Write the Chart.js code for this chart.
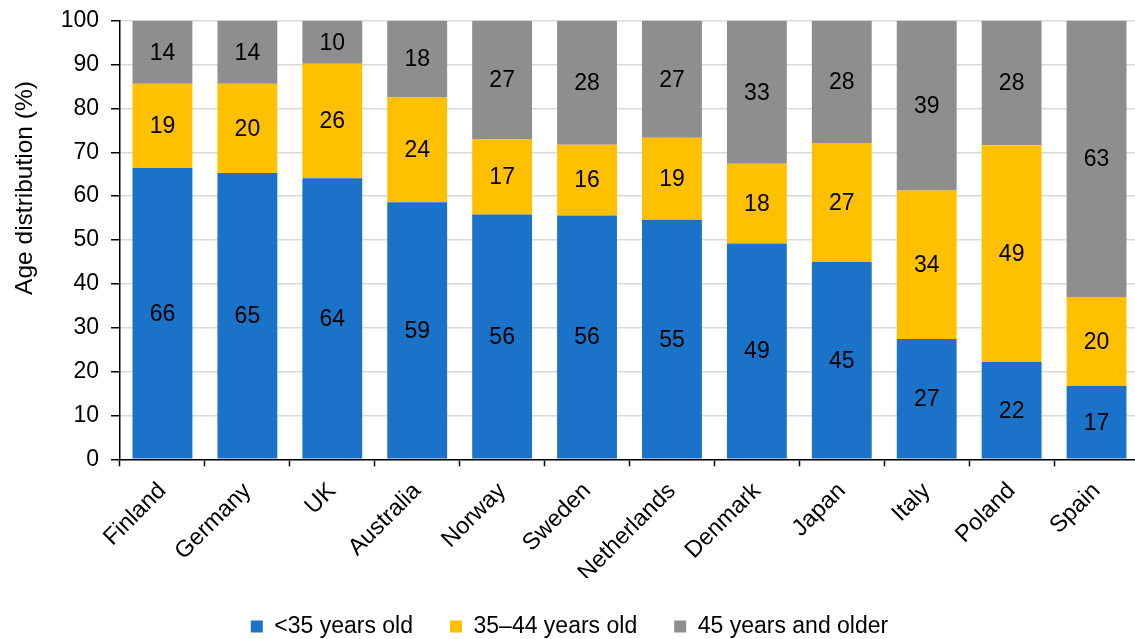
<!DOCTYPE html>
<html>
<head>
<meta charset="utf-8">
<title>Age distribution by country</title>
<script src="https://cdn.jsdelivr.net/npm/chart.js@4.4.1/dist/chart.umd.min.js"></script>
<style>
  html, body { margin: 0; padding: 0; background: #ffffff; overflow: hidden; }
  #wrap { position: relative; width: 1139px; height: 639px; }
</style>
</head>
<body>
<div id="wrap"><canvas id="chart"></canvas></div>
<script>
// Countries along the x axis
const countries = ['Finland', 'Germany', 'UK', 'Australia', 'Norway', 'Sweden',
  'Netherlands', 'Denmark', 'Japan', 'Italy', 'Poland', 'Spain'];

// Share of each age group (%), per country
const under35 = [66.4, 65.3, 64.1, 58.6, 55.8, 55.6, 54.6, 49.2, 45.0, 27.4, 22.2, 16.7];
const age35to44 = [19.2, 20.3, 26.1, 23.9, 17.1, 16.1, 18.7, 18.2, 27.1, 33.9, 49.4, 20.3];
const age45plus = [14.4, 14.4, 9.8, 17.5, 27.1, 28.3, 26.7, 32.6, 27.9, 38.7, 28.4, 63.0];

// Series names
const seriesNames = ['<35 years old', '35\u201344 years old', '45 years and older'];

// Y axis range and step
const yTicks = { min: 0, max: 100, step: 10 };
const yTitle = 'Age distribution (%)';

const FONT = 'Liberation Sans, Arial, sans-serif';
const colors = ['#1b72c9', '#ffc000', '#8e8e8e'];

// Writes each segment's rounded value in the middle of the segment
const segmentLabels = {
  id: 'segmentLabels',
  afterDatasetsDraw(chart) {
    const ctx = chart.ctx;
    ctx.save();
    ctx.font = '23px ' + FONT;
    ctx.fillStyle = '#000000';
    ctx.textAlign = 'center';
    ctx.textBaseline = 'middle';
    chart.data.datasets.forEach((ds, i) => {
      const meta = chart.getDatasetMeta(i);
      meta.data.forEach((bar, j) => {
        const v = ds.data[j];
        ctx.fillText(String(Math.round(v)), bar.x, (bar.y + bar.base) / 2 + 1);
      });
    });
    ctx.restore();
  }
};

// Vertical axis title, set a little above the middle of the axis
const axisTitle = {
  id: 'axisTitle',
  afterDraw(chart, args, opts) {
    const ctx = chart.ctx;
    const area = chart.chartArea;
    ctx.save();
    ctx.font = '24.5px ' + FONT;
    ctx.fillStyle = '#000000';
    ctx.textAlign = 'center';
    ctx.textBaseline = 'middle';
    ctx.translate(opts.x, (area.top + area.bottom) / 2 + opts.shift);
    ctx.rotate(-Math.PI / 2);
    ctx.fillText(opts.text, 0, 0);
    ctx.restore();
  }
};

const seriesData = [under35, age35to44, age45plus];

new Chart(document.getElementById('chart'), {
  type: 'bar',
  data: {
    labels: countries,
    datasets: seriesNames.map((name, i) => ({
      label: name,
      data: seriesData[i],
      backgroundColor: colors[i],
      borderWidth: 0,
      barPercentage: 0.705,
      categoryPercentage: 1.0
    }))
  },
  options: {
    responsive: true,
    maintainAspectRatio: false,
    animation: false,
    layout: { padding: { top: 20.7, right: 0, bottom: -9, left: 0 } },
    plugins: {
      tooltip: { enabled: false },
      axisTitle: { text: yTitle, x: 25, shift: -52 },
      legend: {
        position: 'bottom',
        labels: {
          boxWidth: 12,
          boxHeight: 12,
          padding: 37,
          color: '#000000',
          font: { family: FONT, size: 23 }
        }
      }
    },
    scales: {
      x: {
        stacked: true,
        afterFit(scale) {
          const legendH = scale.chart.legend ? scale.chart.legend.height : 0;
          scale.height = 639 + 9 - legendH - 459.3;
        },
        grid: {
          display: true,
          drawOnChartArea: false,
          drawTicks: true,
          tickLength: 7,
          tickColor: '#000000',
          tickWidth: 1.5,
          offset: true
        },
        border: { display: true, color: '#000000', width: 1.5 },
        ticks: {
          color: '#000000',
          font: { family: FONT, size: 23.5 },
          minRotation: 45,
          maxRotation: 45,
          padding: 11,
          autoSkip: false
        }
      },
      y: {
        stacked: true,
        min: yTicks.min,
        max: yTicks.max,
        afterFit(scale) {
          scale.width = 120;
          scale.paddingTop = 0;
          scale.paddingBottom = 0;
        },
        grid: {
          color: '#d9d9d9',
          lineWidth: 1.5,
          drawTicks: true,
          tickLength: 9,
          tickColor: '#000000',
          tickWidth: 1.5
        },
        border: { display: true, color: '#000000', width: 1.5 },
        ticks: {
          stepSize: yTicks.step,
          color: '#000000',
          padding: 12,
          font: { family: FONT, size: 23 }
        }
      }
    }
  },
  plugins: [segmentLabels, axisTitle]
});
</script>
</body>
</html>
